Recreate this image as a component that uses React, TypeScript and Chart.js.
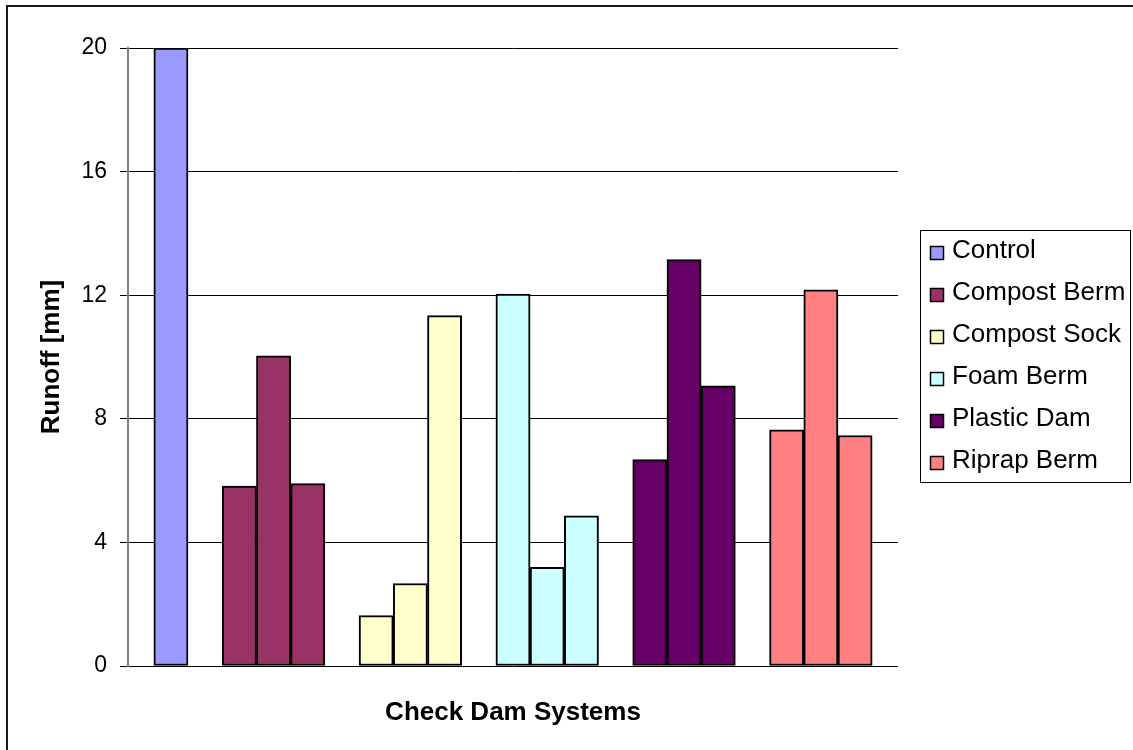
import React, { useEffect, useRef } from "react";
import { Chart, registerables } from "chart.js";

Chart.register(...registerables);

// ---- data ----
const systems = ["Control", "Compost Berm", "Compost Sock", "Foam Berm", "Plastic Dam", "Riprap Berm"];
const controlRunoff = [20];
const compostBermRunoff = [5.82, 10.04, 5.9];
const compostSockRunoff = [1.63, 2.67, 11.34];
const foamBermRunoff = [12.04, 3.19, 4.86];
const plasticDamRunoff = [6.68, 13.15, 9.07];
const riprapBermRunoff = [7.64, 12.17, 7.46];
const yTicks = [0, 4, 8, 12, 16, 20];
const colors = ["#9999FF", "#993366", "#FFFFCC", "#CCFFFF", "#660066", "#FF8080"];

const seriesValues = [
  controlRunoff,
  compostBermRunoff,
  compostSockRunoff,
  foamBermRunoff,
  plasticDamRunoff,
  riprapBermRunoff,
];

const FONT = '"Liberation Sans", Arial, sans-serif';

// Bars sit in consecutive slots; one empty slot between systems.
function buildDatasets() {
  let slot = 0;
  return seriesValues.map((vals, i) => {
    const data = vals.map((v) => {
      const p = { x: slot, y: v };
      slot += 1;
      return p;
    });
    slot += 1; // gap between groups
    return {
      label: systems[i],
      data,
      backgroundColor: colors[i],
      borderColor: "#000000",
      borderWidth: 2,
      borderSkipped: false,
      grouped: false,
      categoryPercentage: 1,
      barPercentage: 1,
    };
  });
}

const frameAndLegend = {
  id: "frameAndLegend",
  afterDraw(chart: any) {
    const ctx = chart.ctx;
    ctx.save();
    // outer frame (left and top edges only)
    ctx.strokeStyle = "#1a1a1a";
    ctx.lineWidth = 2;
    ctx.beginPath();
    ctx.moveTo(7, chart.height);
    ctx.lineTo(7, 6);
    ctx.lineTo(chart.width, 6);
    ctx.stroke();

    // legend box
    const L = 920, T = 230, W = 210, H = 252;
    ctx.lineWidth = 1;
    ctx.strokeStyle = "#000";
    ctx.strokeRect(L + 0.5, T + 0.5, W, H);
    ctx.font = `26px ${FONT}`;
    ctx.textBaseline = "middle";
    ctx.textAlign = "left";
    chart.data.datasets.forEach((ds: any, i: number) => {
      const cy = 251 + 42 * i;
      ctx.fillStyle = ds.backgroundColor;
      ctx.fillRect(930.5, cy - 4.5, 13, 13);
      ctx.strokeStyle = "#000";
      ctx.lineWidth = 1.5;
      ctx.strokeRect(930.5, cy - 4.5, 13, 13);
      ctx.fillStyle = "#000";
      ctx.fillText(ds.label, 952, cy);
    });
    ctx.restore();
  },
};

export default function App() {
  const ref = useRef<HTMLCanvasElement | null>(null);

  useEffect(() => {
    if (!ref.current) return;
    const chart = new Chart(ref.current, {
      type: "bar",
      data: { datasets: buildDatasets() as any },
      plugins: [frameAndLegend],
      options: {
        animation: false,
        responsive: false,
        devicePixelRatio: 1,
        layout: { padding: { top: 48, right: 235, bottom: 0, left: 0 } },
        plugins: {
          legend: { display: false },
          tooltip: { enabled: false },
          title: { display: false },
        },
        scales: {
          x: {
            type: "linear",
            offset: false,
            min: -1.255,
            max: 21.255,
            ticks: { display: false, stepSize: 2 },
            grid: { display: false },
            border: { display: false },
            title: {
              display: true,
              text: "Check Dam Systems",
              color: "#000",
              font: { family: FONT, size: 26, weight: "bold" },
              padding: { top: 0, bottom: 22 },
            },
            afterFit: (s: any) => {
              s.height = 84;
            },
          },
          y: {
            min: yTicks[0],
            max: yTicks[yTicks.length - 1],
            afterBuildTicks: (s: any) => {
              s.ticks = yTicks.map((v) => ({ value: v }));
            },
            ticks: {
              color: "#000",
              padding: 13,
              font: { family: FONT, size: 23 },
            },
            grid: {
              color: "#000",
              lineWidth: 1,
              tickLength: 8,
              drawTicks: true,
            },
            border: { display: true, color: "#808080", width: 2 },
            title: {
              display: true,
              text: "Runoff [mm]",
              color: "#000",
              font: { family: FONT, size: 26, weight: "bold" },
              padding: { top: 36, bottom: 0 },
            },
            afterFit: (s: any) => {
              s.width = 128;
            },
          },
        },
      },
    });
    return () => chart.destroy();
  }, []);

  return (
    <div style={{ position: "fixed", left: 0, top: 0, width: 1133, height: 750, background: "#fff" }}>
      <canvas ref={ref} width={1133} height={750} style={{ display: "block" }} />
    </div>
  );
}
